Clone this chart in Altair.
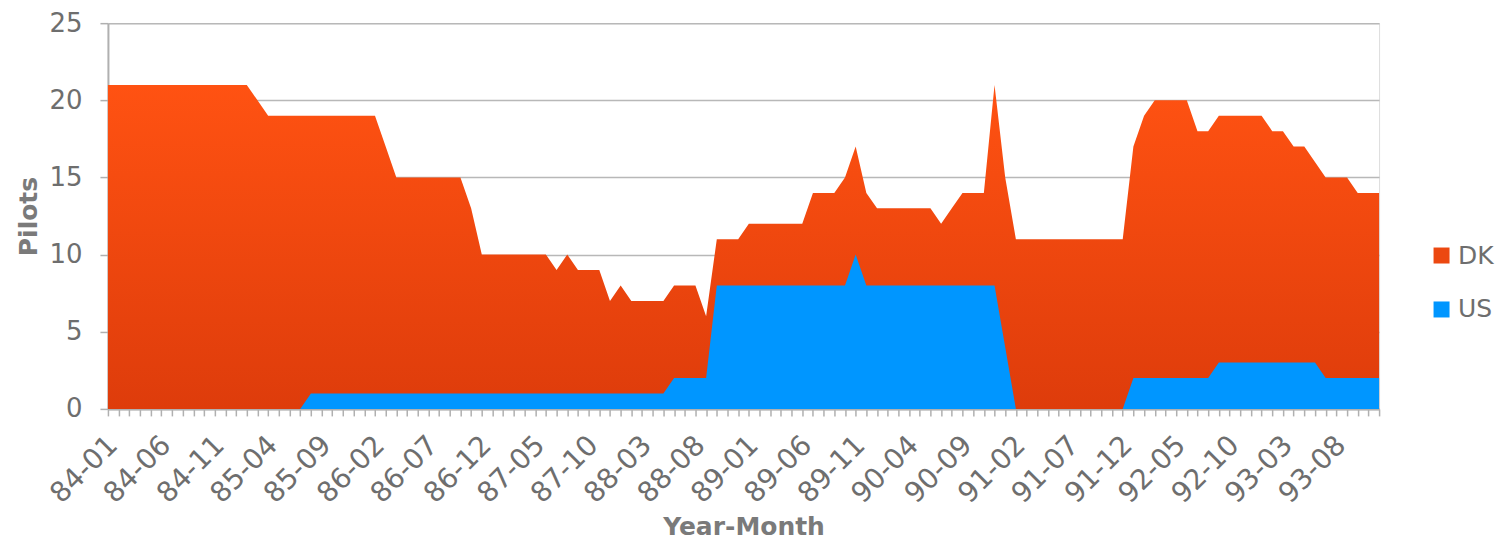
import altair as alt
import pandas as pd

years = list(range(84, 94))
months = [f"{y:02d}-{m:02d}" for y in years for m in range(1, 13)]

dk_values = ([21] * 14 + [20] + [19] * 11 + [17] + [15] * 7 + [13] + [10] * 7 +
             [9, 10] + [9] * 3 + [7, 8] + [7] * 4 + [8] * 3 + [6] + [11] * 3 +
             [12] * 6 + [14] * 3 + [15, 17, 14] + [13] * 6 + [12, 13] + [14] * 3 +
             [21, 15] + [11] * 11 + [17, 19] + [20] * 4 + [18] * 2 + [19] * 5 +
             [18] * 2 + [17] * 2 + [16] + [15] * 3 + [14] * 3)
us_values = ([0] * 19 + [1] * 34 + [2] * 4 + [8] * 13 + [10] + [8] * 13 + [4] +
             [0] * 11 + [2] * 8 + [3] * 10 + [2] * 6)

series_names = ["DK", "US"]
series_colors = ["#EC4810", "#0096FF"]

df = pd.DataFrame({
    "month": months * 2,
    "series": ["DK"] * len(months) + ["US"] * len(months),
    "pilots": dk_values + us_values,
})

n_last = len(months) - 1
FONT = "DejaVu Sans"
TXT = "#6E6E6E"

dk_gradient = {
    "gradient": "linear", "x1": 0, "y1": 0, "x2": 0, "y2": 1,
    "stops": [{"offset": 0, "color": "#FF5212"}, {"offset": 1, "color": "#DE3C0B"}],
}

x_enc = alt.X(
    "month:O",
    sort=months,
    scale=alt.Scale(padding=0),
    axis=alt.Axis(
        title="Year-Month",
        labelExpr=f"round(datum.index * {n_last}) % 5 == 0 ? datum.label : ''",
        labelAngle=-45, labelAlign="right", labelBaseline="top",
        labelOverlap=False, labelPadding=15, labelOffset=-5, tickSize=7, tickWidth=1.5,
        tickColor="#B0B0B0", domainColor="#B0B0B0", domainWidth=2,
        labelFont=FONT, labelFontSize=28, labelColor=TXT,
        titleFont=FONT, titleFontSize=25, titleFontWeight="bold", titleColor="#7A7A7A",
        titleY=118, titleBaseline="middle", grid=False,
    ),
)
y_enc = alt.Y(
    "pilots:Q",
    scale=alt.Scale(domain=[0, 25], nice=False),
    axis=alt.Axis(
        title="Pilots", values=[0, 5, 10, 15, 20, 25],
        tickSize=8, tickWidth=1.5, tickColor="#B0B0B0", domainColor="#B0B0B0", domainWidth=2,
        gridColor="#B8B8B8", gridWidth=1.5,
        labelFont=FONT, labelFontSize=26, labelColor=TXT, labelPadding=18,
        titleFont=FONT, titleFontSize=25, titleFontWeight="bold", titleColor="#7A7A7A",
        titlePadding=7,
    ),
)

base = alt.Chart(df)

dk = base.transform_filter(alt.datum.series == "DK").mark_area(
    fill=dk_gradient, interpolate="linear"
).encode(x=x_enc, y=y_enc)

us = base.transform_filter(alt.datum.series == "US").mark_area(
    interpolate="linear", opacity=1
).encode(
    x=x_enc, y=y_enc,
    color=alt.Color(
        "series:N",
        scale=alt.Scale(domain=series_names, range=series_colors),
        legend=alt.Legend(
            title=None, orient="none", legendX=1322, legendY=220,
            symbolType="square", symbolSize=256, symbolStrokeWidth=0,
            labelFont=FONT, labelFontSize=25, labelColor=TXT,
            rowPadding=28, symbolOpacity=1,
        ),
    ),
)

chart = alt.layer(dk, us).properties(
    width=1272, height=386,
    autosize=alt.AutoSizeParams(type="none"),
    padding={"left": 100, "top": 15, "right": 116, "bottom": 131},
).configure_view(stroke=None).configure(background="white")

chart.save("out.html", embed_options={"renderer": "svg", "actions": False})
